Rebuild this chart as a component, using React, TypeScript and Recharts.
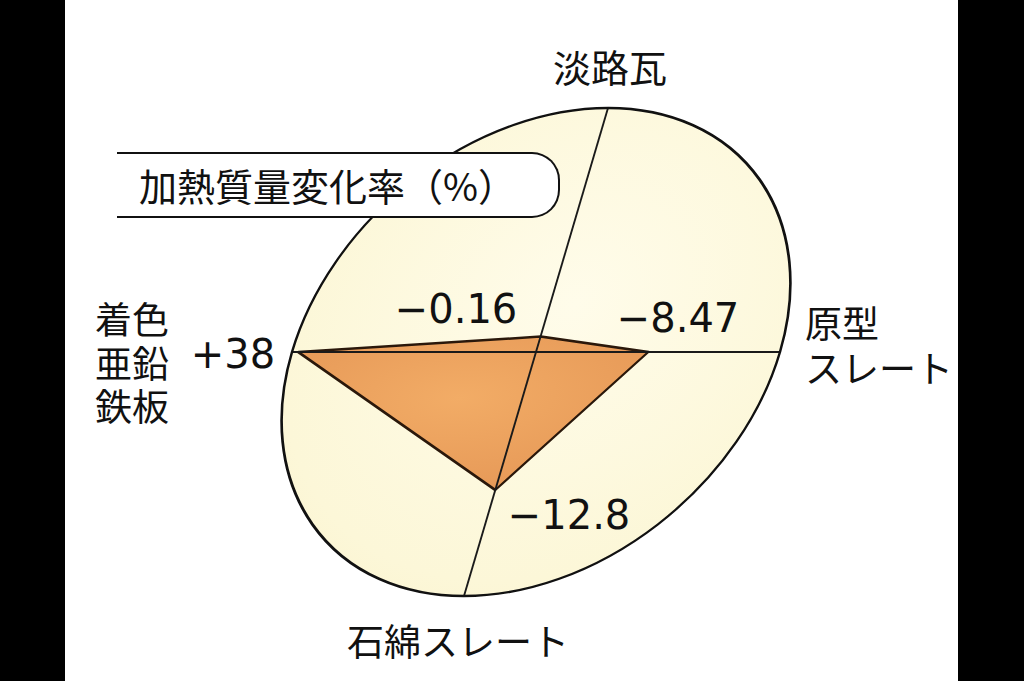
import React from "react";
import { RadarChart, Radar, PolarGrid, PolarAngleAxis, PolarRadiusAxis } from "recharts";

// ---- data ----
const categories = ["淡路瓦", "原型スレート", "石綿スレート", "着色亜鉛鉄板"];
const changeRates = [-0.16, -8.47, -12.8, 38];
const categoryLines = [["淡路瓦"], ["原型", "スレート"], ["石綿スレート"], ["着色", "亜鉛", "鉄板"]];
const titleText = "加熱質量変化率（%）";
const radiusDomain = [0, 40];

const data = categories.map((name, i) => ({ name, rate: changeRates[i] }));

// ---- layout ----
const SIZE = 540;
const C = 270;
const R = 250;
const CENTER_X = 536;
const CENTER_Y = 352;
const SKEW = "matrix(0.976, 0, -0.288, 0.976, 0, 0)";

const nameLayout = [
  { x: 610, top: 47, align: "center", size: 38, lh: 38 },
  { x: 805, top: 300, align: "left", size: 37, lh: 45 },
  { x: 347, top: 621, align: "left", size: 37, lh: 38 },
  { x: 95, top: 297, align: "left", size: 37, lh: 43.5 },
];
const valueLayout = [
  { x: 456, y: 308 },
  { x: 678, y: 317 },
  { x: 569, y: 514 },
  { x: 233, y: 353 },
];

const formatRate = (v: number) => (v > 0 ? `+${v}` : `\u2212${Math.abs(v)}`);
const magnitude = (d: { rate: number }) => Math.abs(d.rate);

const CJK = '"Noto Sans CJK JP", "Noto Sans", sans-serif';
const NUM = '"DejaVu Sans", sans-serif';

export default function App() {
  return (
    <div
      style={{
        position: "absolute",
        left: 0,
        top: 0,
        width: 1024,
        height: 681,
        background: "#ffffff",
        overflow: "hidden",
      }}
    >
      {/* side bars */}
      <div style={{ position: "absolute", left: 0, top: 0, width: 65, height: 681, background: "#000" }} />
      <div style={{ position: "absolute", left: 958, top: 0, width: 66, height: 681, background: "#000" }} />

      {/* skewed radar */}
      <div
        style={{
          position: "absolute",
          left: CENTER_X - C,
          top: CENTER_Y - C,
          width: SIZE,
          height: SIZE,
          transformOrigin: `${C}px ${C}px`,
          transform: SKEW,
          zIndex: 1,
        }}
      >
        <div
          style={{
            position: "absolute",
            left: C - R,
            top: C - R,
            width: 2 * R,
            height: 2 * R,
            borderRadius: "50%",
            background: "radial-gradient(circle at 55% 40%, #fffcea 0%, #fcf7d8 70%, #f9f1c8 100%)",
          }}
        />
        <div style={{ position: "absolute", left: 0, top: 0 }}>
          <RadarChart
            width={SIZE}
            height={SIZE}
            data={data}
            cx={C}
            cy={C}
            outerRadius={R}
            margin={{ top: 0, right: 0, bottom: 0, left: 0 }}
          >
            <defs>
              <radialGradient id="polyFill" cx="50%" cy="40%" r="70%">
                <stop offset="0%" stopColor="#f2ac66" />
                <stop offset="100%" stopColor="#e59756" />
              </radialGradient>
            </defs>
            <PolarAngleAxis dataKey="name" tick={false} axisLine={false} />
            <PolarRadiusAxis scale="sqrt" type="number" domain={radiusDomain} tick={false} axisLine={false} />
            <Radar
              name="加熱質量変化率"
              dataKey={magnitude}
              fill="url(#polyFill)"
              fillOpacity={1}
              stroke="#2a180b"
              strokeWidth={2.6}
              strokeLinejoin="round"
              isAnimationActive={false}
            />
          </RadarChart>
        </div>
        <div style={{ position: "absolute", left: 0, top: 0 }}>
          <RadarChart
            width={SIZE}
            height={SIZE}
            data={data}
            cx={C}
            cy={C}
            outerRadius={R}
            margin={{ top: 0, right: 0, bottom: 0, left: 0 }}
          >
            <PolarGrid gridType="circle" polarRadius={[]} stroke="#1a1a1a" strokeWidth={2} />
            <PolarGrid gridType="circle" polarRadius={[R]} radialLines={false} stroke="#111" strokeWidth={2.6} />
            <PolarAngleAxis dataKey="name" tick={false} axisLine={false} />
            <PolarRadiusAxis scale="sqrt" type="number" domain={radiusDomain} tick={false} axisLine={false} />
            <Radar dataKey={magnitude} fill="none" stroke="none" isAnimationActive={false} />
          </RadarChart>
        </div>
      </div>

      {/* title box */}
      <div
        style={{
          position: "absolute",
          left: 117,
          top: 152,
          width: 441,
          height: 62,
          borderTop: "2px solid #111",
          borderBottom: "2px solid #111",
          borderRight: "2px solid #111",
          borderRadius: "0 28px 28px 0",
          background: "#ffffff",
          zIndex: 2,
        }}
      >
        <div
          style={{
            position: "absolute",
            left: 22,
            top: 12,
            fontFamily: CJK,
            fontSize: 38,
            lineHeight: "38px",
            color: "#111",
            whiteSpace: "nowrap",
          }}
        >
          {titleText}
        </div>
      </div>

      {/* category labels */}
      {categoryLines.map((lines, i) => {
        const L = nameLayout[i];
        return (
          <div
            key={`n${i}`}
            style={{
              position: "absolute",
              left: L.x,
              top: L.top,
              transform: L.align === "center" ? "translateX(-50%)" : undefined,
              fontFamily: CJK,
              fontSize: L.size,
              lineHeight: `${L.lh}px`,
              color: "#111",
              whiteSpace: "pre",
              zIndex: 3,
            }}
          >
            {lines.join("\n")}
          </div>
        );
      })}

      {/* value labels */}
      {changeRates.map((v, i) => (
        <div
          key={`v${i}`}
          style={{
            position: "absolute",
            left: valueLayout[i].x,
            top: valueLayout[i].y,
            transform: "translate(-50%, -48%)",
            fontFamily: NUM,
            fontSize: 40,
            lineHeight: "40px",
            color: "#111",
            whiteSpace: "nowrap",
            zIndex: 3,
          }}
        >
          {formatRate(v)}
        </div>
      ))}
    </div>
  );
}
